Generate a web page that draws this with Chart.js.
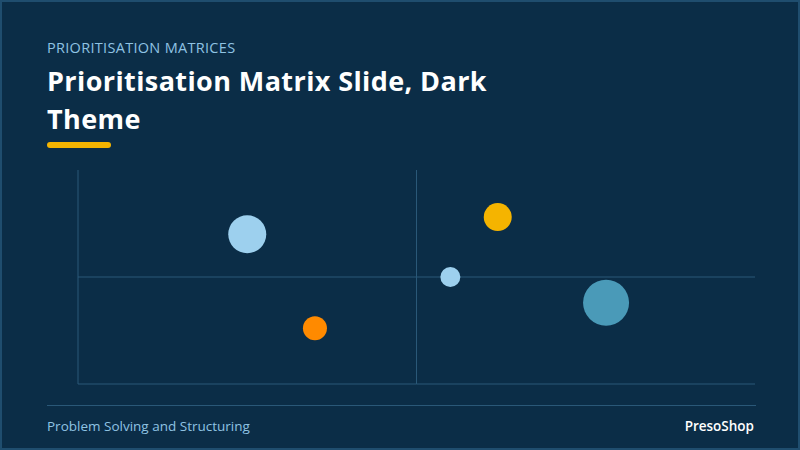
<!DOCTYPE html>
<html><head><meta charset="utf-8">
<script src="https://cdn.jsdelivr.net/npm/chart.js@4"></script>
<style>
html,body{margin:0;padding:0;}
body{width:800px;height:450px;background:#0b2d47;position:relative;overflow:hidden;font-family:"Open Sans",Inter,sans-serif;box-sizing:border-box;border:2px solid #1f4d6e;}
#k{position:absolute;left:45px;top:36px;font-size:14.5px;color:#8fc3e3;letter-spacing:0.3px;}
#t{position:absolute;left:45px;top:60px;font-size:27px;font-weight:700;color:#fff;line-height:38px;width:520px;letter-spacing:0.4px;}
#u{position:absolute;left:45px;top:140px;width:64px;height:6px;border-radius:3px;background:#f5b400;}
#c{position:absolute;left:36px;top:145px;width:740px;height:260px;}
#f{position:absolute;left:45px;top:403px;width:709px;border-top:1px solid #2a5878;}
#fl{position:absolute;left:45px;top:415px;font-size:13.5px;color:#8fc3e3;}
#fr{position:absolute;right:44px;top:415px;font-size:13.5px;color:#fff;font-weight:600;}
</style></head><body>
<div id="k">PRIORITISATION MATRICES</div>
<div id="t">Prioritisation Matrix Slide, Dark Theme</div>
<div id="u"></div>
<div id="c"><canvas id="cv"></canvas></div>
<div id="f"></div>
<div id="fl">Problem Solving and Structuring</div>
<div id="fr">PresoShop</div>
<script>
const xs=[2.5,3.5,6.2,5.5,7.8];
const ys=[7.0,2.6,7.8,5.0,3.8];
const rs=[19,12,14,10,23];
const colors=['#9dd0ee','#ff8a00','#f5b400','#9dd0ee','#4a9ab8'];
const midLines={id:'mid',beforeDatasetsDraw(ch){const {ctx,chartArea:a,scales:{x,y}}=ch;ctx.save();ctx.strokeStyle='#2a5878';ctx.lineWidth=1;
const mx=x.getPixelForValue(5),my=y.getPixelForValue(5);
ctx.beginPath();ctx.moveTo(mx,a.top);ctx.lineTo(mx,a.bottom);ctx.moveTo(a.left,my);ctx.lineTo(a.right,my);
ctx.moveTo(a.left,a.top);ctx.lineTo(a.left,a.bottom);ctx.lineTo(a.right,a.bottom);ctx.stroke();ctx.restore();}};
new Chart(document.getElementById('cv'),{type:'bubble',
data:{datasets:[{data:xs.map((v,i)=>({x:v,y:ys[i],r:rs[i]})),backgroundColor:colors,borderWidth:0}]},
options:{responsive:true,maintainAspectRatio:false,animation:false,layout:{padding:{left:40,right:13,top:10,bottom:10}},
plugins:{legend:{display:false},tooltip:{enabled:false}},
scales:{x:{min:0,max:10,display:false},y:{min:0,max:10,display:false}}},
plugins:[midLines]});
</script></body></html>
